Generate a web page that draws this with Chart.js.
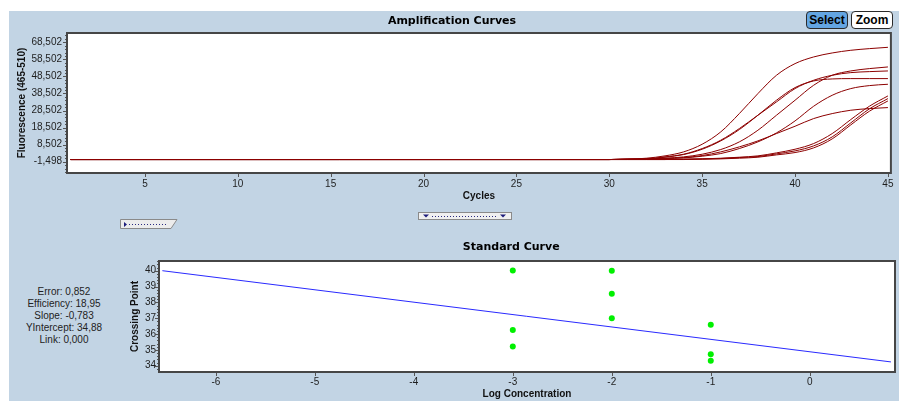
<!DOCTYPE html>
<html>
<head>
<meta charset="utf-8">
<script src="https://cdn.jsdelivr.net/npm/chart.js@4.4.1/dist/chart.umd.min.js"></script>
<style>
  html, body { margin: 0; padding: 0; background: #ffffff; width: 899px; height: 401px; overflow: hidden; }
  #panel { position: absolute; left: 9px; top: 11px; width: 890px; height: 390px; background: #c2d4e4; }
  #ampCanvas { position: absolute; left: 9px; top: 11px; }
  #stdCanvas { position: absolute; left: 125px; top: 236px; }
  .btn { position: absolute; top: 11px; height: 18px; width: 42px; box-sizing: border-box;
         border: 1px solid #2a2a2a; border-radius: 4px; font: bold 12px "Liberation Sans", Arial, sans-serif;
         line-height: 16px; text-align: center; color: #000; }
  #btnSelect { left: 806px; background: #63a5e2; }
  #btnZoom { left: 851px; background: #ffffff; }
  #stats { position: absolute; left: 9px; top: 286px; width: 110px; text-align: center;
           font: 10px "Liberation Sans", Arial, sans-serif; line-height: 11.9px; color: #222; }
  svg { position: absolute; }
</style>
</head>
<body>
<div id="panel"></div>
<canvas id="ampCanvas" width="890" height="192"></canvas>
<canvas id="stdCanvas" width="774" height="165"></canvas>
<div class="btn" id="btnSelect">Select</div>
<div class="btn" id="btnZoom">Zoom</div>

<!-- range sliders under the amplification plot -->
<svg style="left:120px;top:219px" width="58" height="11">
  <polygon points="0.5,0.5 57,0.5 51,9.5 0.5,9.5" fill="#ececec" stroke="#8a8a8a" stroke-width="1"/>
  <polygon points="4,3 4,8 7,5.5" fill="#1c1c7a"/>
  <line x1="9" y1="5.5" x2="48" y2="5.5" stroke="#2a2a80" stroke-width="1" stroke-dasharray="1,2"/>
</svg>
<svg style="left:418px;top:212px" width="95" height="8">
  <rect x="0.5" y="0.5" width="93" height="7" fill="#f0f0f0" stroke="#8a8a8a" stroke-width="1"/>
  <polygon points="5,2.5 11,2.5 8,5.5" fill="#1c1c7a"/>
  <polygon points="82,2.5 88,2.5 85,5.5" fill="#1c1c7a"/>
  <line x1="14" y1="4.5" x2="79" y2="4.5" stroke="#2a2a80" stroke-width="1" stroke-dasharray="1,2"/>
</svg>

<div id="stats"></div>

<script>
// ---- Amplification run data (fluorescence 465-510 per cycle) ----
const CYCLES = [1, 30, 31, 32, 33, 34, 35, 36, 37, 38, 39, 40, 41, 42, 43, 44, 45];
const RUN_A = [-230, -230, -40, 550, 1920, 4260, 8750, 15970, 26710, 38430, 49170, 56010, 59910, 62250, 63820, 64790, 65570];
const RUN_B = [-230, -230, -40, -40, 550, 1330, 2890, 5630, 10120, 16950, 25740, 34530, 43310, 49170, 51710, 53080, 54050];
const RUN_C = [-230, -230, -40, 160, 1330, 2890, 6210, 11090, 17930, 25740, 33550, 41360, 46240, 49170, 50730, 51320, 51710];
const RUN_D = [-230, -230, -40, 160, 1130, 2700, 5820, 10700, 17340, 25740, 34530, 41950, 45850, 47020, 47220, 47220, 47220];
const RUN_E = [-230, -230, -40, 160, 350, 740, 1720, 3280, 6210, 10120, 15390, 22420, 31010, 37450, 41360, 43120, 43900];
const RUN_F = [-230, -230, -230, -230, -230, -40, 160, 550, 1130, 1920, 3670, 5820, 9140, 14990, 23200, 31010, 37060];
const RUN_G = [-230, -230, -230, -230, -230, -40, 160, 350, 940, 1520, 3090, 4840, 7770, 13050, 21250, 29450, 35500];
const RUN_H = [-230, -230, -230, -230, -230, -230, -40, 160, 550, 1130, 2500, 3870, 6600, 11880, 20080, 28080, 34130];
const RUN_I = [-230, -230, -40, 160, 350, 940, 2110, 4260, 7190, 10700, 15000, 19290, 23790, 26710, 28670, 29640, 30230];
const RUNS = [RUN_A, RUN_B, RUN_C, RUN_D, RUN_E, RUN_F, RUN_G, RUN_H, RUN_I];

const CYCLE_TICKS = [5, 10, 15, 20, 25, 30, 35, 40, 45];
const FLUOR_TICKS = [-1498, 8502, 18502, 28502, 38502, 48502, 58502, 68502];

// ---- Standard curve data ----
const LOG_CONC = [-3, -3, -3, -2, -2, -2, -1, -1, -1];
const CROSSING_POINT = [40.02, 36.25, 35.22, 40.0, 38.55, 37.0, 36.59, 34.72, 34.31];
const FIT_X_RANGE = [-6.54, 0.82];
const SLOPE = -0.783;
const Y_INTERCEPT = 34.88;
const FIT_ERROR = '0,852';
const EFFICIENCY = '18,95';
const LINK = '0,000';
const LOG_TICKS = [-6, -5, -4, -3, -2, -1, 0];
const CP_TICKS = [34, 35, 36, 37, 38, 39, 40];

const comma = (v, d) => v.toFixed(d).replace('.', ',');
document.getElementById('stats').innerHTML =
  'Error: ' + FIT_ERROR + '<br>Efficiency: ' + EFFICIENCY + '<br>Slope: ' + comma(SLOPE, 3) +
  '<br>YIntercept: ' + comma(Y_INTERCEPT, 2) + '<br>Link: ' + LINK;

Chart.defaults.font.family = '"Liberation Sans", Arial, sans-serif';
Chart.defaults.font.size = 10;
Chart.defaults.color = '#1e1e1e';

// White plot area, dark frame and outside tick marks (major + minor)
const plotFrame = {
  id: 'plotFrame',
  beforeDraw(chart) {
    const a = chart.chartArea, ctx = chart.ctx;
    ctx.save();
    ctx.fillStyle = '#ffffff';
    ctx.fillRect(a.left, a.top, a.right - a.left, a.bottom - a.top);
    ctx.restore();
  },
  afterDraw(chart, args, o) {
    const a = chart.chartArea, ctx = chart.ctx;
    const xs = chart.scales.x, ys = chart.scales.y;
    ctx.save();
    ctx.strokeStyle = '#555555';
    ctx.lineWidth = 1;
    ctx.beginPath();
    const yt = (v, len) => { const p = Math.round(ys.getPixelForValue(v)) + 0.5; ctx.moveTo(a.left - len, p); ctx.lineTo(a.left, p); };
    const xt = (v, len) => { const p = Math.round(xs.getPixelForValue(v)) + 0.5; ctx.moveTo(p, a.bottom); ctx.lineTo(p, a.bottom + len); };
    o.yMajor.forEach(v => yt(v, 4));
    const ymin = ys.min, ymax = ys.max;
    for (let k = -50; k <= 50 * o.ySub; k++) {
      const v = o.yMajor[0] + k * o.yStep / o.ySub;
      if (k % o.ySub === 0 || v < ymin || v > ymax) continue;
      yt(v, 2);
    }
    o.xMajor.forEach(v => xt(v, 4));
    ctx.stroke();
    ctx.strokeStyle = '#464646';
    ctx.lineWidth = 2;
    ctx.strokeRect(a.left, a.top, a.right - a.left, a.bottom - a.top);
    ctx.restore();
  }
};

const titleFont = { family: '"DejaVu Sans", Verdana, sans-serif', size: 11, weight: 'bold' };
const axisTitleFont = { family: '"Liberation Sans", Arial, sans-serif', size: 10, weight: 'bold' };

// ---- Amplification curves ----
new Chart(document.getElementById('ampCanvas'), {
  type: 'line',
  data: {
    datasets: RUNS.map(run => ({
      data: run.map((v, i) => ({ x: CYCLES[i], y: v })),
      borderColor: '#8c0000',
      borderWidth: 1,
      pointRadius: 0,
      cubicInterpolationMode: 'monotone',
      fill: false
    }))
  },
  options: {
    responsive: false, animation: false, events: [],
    layout: { padding: { left: 0, right: 4, top: 0, bottom: 0 } },
    plugins: {
      legend: { display: false }, tooltip: { enabled: false },
      title: { display: true, text: 'Amplification Curves', font: titleFont, color: '#000',
               padding: { top: 3.5, bottom: 5.3 } },
      plotFrame: { yMajor: FLUOR_TICKS, yStep: 10000, ySub: 5, xMajor: CYCLE_TICKS }
    },
    scales: {
      x: {
        type: 'linear', min: 0.805, max: 45.16,
        afterBuildTicks: s => { s.ticks = CYCLE_TICKS.map(v => ({ value: v })); },
        ticks: { padding: 5.5, maxRotation: 0, autoSkip: false, callback: v => String(v), color: '#1e1e1e' },
        grid: { display: false, drawTicks: false }, border: { display: false },
        title: { display: true, text: 'Cycles', font: axisTitleFont, color: '#111', padding: { top: 0, bottom: 1 } },
        afterFit: s => { s.height = 30; }
      },
      y: {
        type: 'linear', min: -8120, max: 73955,
        afterBuildTicks: s => { s.ticks = FLUOR_TICKS.map(v => ({ value: v })); },
        ticks: { padding: 5, autoSkip: false, callback: v => v.toLocaleString('en-US'), color: '#1e1e1e' },
        grid: { display: false, drawTicks: false }, border: { display: false },
        title: { display: true, text: 'Fluorescence (465-510)', font: axisTitleFont, color: '#111', padding: { top: 7, bottom: 0 } },
        afterFit: s => { s.width = 58; }
      }
    }
  },
  plugins: [plotFrame]
});

// ---- Standard curve ----
const fitLine = FIT_X_RANGE.map(x => ({ x: x, y: Y_INTERCEPT + SLOPE * x }));
new Chart(document.getElementById('stdCanvas'), {
  type: 'scatter',
  data: {
    datasets: [
      { data: LOG_CONC.map((x, i) => ({ x: x, y: CROSSING_POINT[i] })),
        pointStyle: 'circle', pointRadius: 3, backgroundColor: '#00f000', borderWidth: 0, showLine: false },
      { type: 'line', data: fitLine, borderColor: '#2a2aff', borderWidth: 1, pointRadius: 0, fill: false }
    ]
  },
  options: {
    responsive: false, animation: false, events: [],
    layout: { padding: { left: 0, right: 1.5, top: 0, bottom: 0 } },
    plugins: {
      legend: { display: false }, tooltip: { enabled: false },
      title: { display: true, text: 'Standard Curve', font: titleFont, color: '#000',
               padding: { top: 4.7, bottom: 7.1 } },
      plotFrame: { yMajor: CP_TICKS, yStep: 1, ySub: 5, xMajor: LOG_TICKS }
    },
    scales: {
      x: {
        type: 'linear', min: -6.574, max: 0.861,
        afterBuildTicks: s => { s.ticks = LOG_TICKS.map(v => ({ value: v })); },
        ticks: { padding: 4.7, maxRotation: 0, autoSkip: false, callback: v => String(v), color: '#1e1e1e' },
        grid: { display: false, drawTicks: false }, border: { display: false },
        title: { display: true, text: 'Log Concentration', font: axisTitleFont, color: '#111', padding: { top: 0, bottom: 1 } },
        afterFit: s => { s.height = 29; }
      },
      y: {
        type: 'linear', min: 33.602, max: 40.613,
        afterBuildTicks: s => { s.ticks = CP_TICKS.map(v => ({ value: v })); },
        ticks: { padding: 3, autoSkip: false, callback: v => String(v), color: '#1e1e1e' },
        grid: { display: false, drawTicks: false }, border: { display: false },
        title: { display: true, text: 'Crossing Point', font: axisTitleFont, color: '#111', padding: { top: 4, bottom: 0 } },
        afterFit: s => { s.width = 34; }
      }
    }
  },
  plugins: [plotFrame]
});
</script>
</body>
</html>
